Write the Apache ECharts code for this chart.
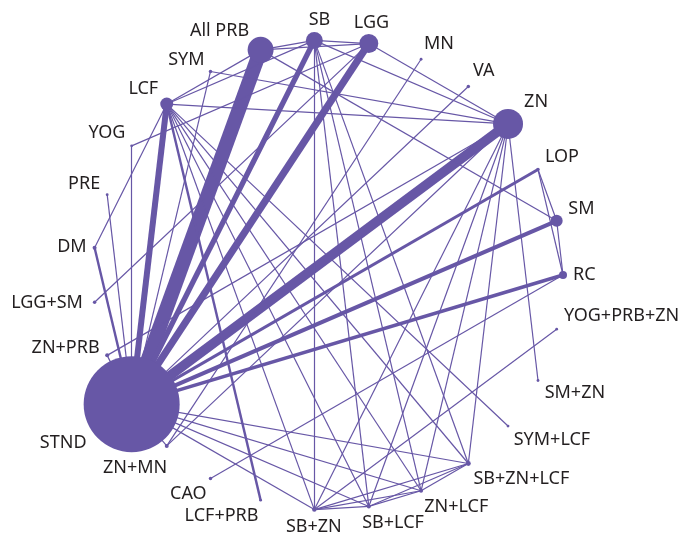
<!DOCTYPE html>
<html>
<head>
<meta charset="utf-8">
<script src="https://cdn.jsdelivr.net/npm/echarts@6/dist/echarts.min.js"></script>
<style>
  html, body { margin: 0; padding: 0; background: #fff; }
  #chart { width: 683px; height: 535px; }
</style>
</head>
<body>
<div id="chart"></div>
<script>
// treatments, clockwise starting at 3 o'clock
var treatments = ['RC', 'YOG+PRB+ZN', 'SM+ZN', 'SYM+LCF', 'SB+ZN+LCF', 'ZN+LCF', 'SB+LCF', 'SB+ZN',
  'LCF+PRB', 'CAO', 'ZN+MN', 'STND', 'ZN+PRB', 'LGG+SM', 'DM', 'PRE', 'YOG', 'LCF', 'SYM',
  'All PRB', 'SB', 'LGG', 'MN', 'VA', 'ZN', 'LOP', 'SM'];

// node weight (drives node size)
var nodeWeight = [16, 2, 2, 2, 6, 4, 4, 5,
  2, 3, 4, 2304, 4, 3, 4, 2, 2, 42, 3,
  169, 72, 90, 2, 3, 225, 3, 36];

// comparisons: [treatment A, treatment B, number of studies]
var comparisons = [
  ['STND', 'All PRB', 12], ['STND', 'ZN', 8], ['STND', 'LGG', 6], ['STND', 'SB', 4.5],
  ['STND', 'LCF', 5], ['STND', 'SM', 3.5], ['STND', 'RC', 3], ['STND', 'LOP', 2.5],
  ['STND', 'DM', 2], ['STND', 'PRE', 1], ['STND', 'YOG', 1], ['STND', 'ZN+PRB', 1],
  ['STND', 'ZN+MN', 1], ['STND', 'VA', 1], ['STND', 'SYM', 1],
  ['DM', 'LCF', 1], ['YOG', 'LGG', 1], ['LGG+SM', 'LGG', 1], ['ZN+PRB', 'ZN', 1],
  ['MN', 'ZN+MN', 1], ['ZN+MN', 'ZN', 1], ['CAO', 'RC', 1], ['LCF+PRB', 'LCF', 2],
  ['YOG+PRB+ZN', 'SB+ZN', 1], ['SM+ZN', 'ZN', 1], ['SYM+LCF', 'LCF', 1],
  ['RC', 'LOP', 1], ['RC', 'SM', 1], ['LOP', 'SM', 1],
  ['SB', 'LGG', 1], ['SB', 'All PRB', 1], ['LGG', 'ZN', 1], ['SB', 'ZN', 1],
  ['SYM', 'ZN', 1], ['LCF', 'ZN', 1], ['All PRB', 'SM', 1], ['LCF', 'SB', 1],
  ['LCF', 'All PRB', 1], ['LGG', 'All PRB', 1],
  ['SB', 'SB+ZN', 1], ['SB', 'SB+LCF', 1], ['SB', 'ZN+LCF', 1], ['SB', 'SB+ZN+LCF', 1],
  ['ZN', 'SB+ZN', 1], ['ZN', 'SB+LCF', 1], ['ZN', 'ZN+LCF', 1], ['ZN', 'SB+ZN+LCF', 1],
  ['LCF', 'SB+ZN', 1], ['LCF', 'SB+LCF', 1], ['LCF', 'ZN+LCF', 1], ['LCF', 'SB+ZN+LCF', 1],
  ['STND', 'SB+ZN', 1], ['STND', 'SB+LCF', 1], ['STND', 'ZN+LCF', 1], ['STND', 'SB+ZN+LCF', 1],
  ['SB+ZN', 'SB+LCF', 1], ['SB+ZN', 'ZN+LCF', 1], ['SB+ZN', 'SB+ZN+LCF', 1],
  ['SB+LCF', 'ZN+LCF', 1], ['SB+LCF', 'SB+ZN+LCF', 1], ['ZN+LCF', 'SB+ZN+LCF', 1]
];

var purple = '#6757a6';
var n = treatments.length;

// small hand nudges for labels that sit off the radial position
var labelNudge = {
  'YOG+PRB+ZN': [0, -15], 'ZN+PRB': [0, -10], 'PRE': [0, -8],
  'All PRB': [-6, 8], 'SB': [6, 3], 'SM': [0, -9], 'ZN+MN': [6, 7],
  'LGG': [0, 4], 'SB+LCF': [-8, 0], 'LGG+SM': [-4, 0], 'SYM': [-2, 4], 'LCF': [0, 3]
};

var nodes = treatments.map(function (name, i) {
  var size = 2 * Math.sqrt(nodeWeight[i]);
  var ang = i * 2 * Math.PI / n;
  var c = Math.cos(ang), s = Math.sin(ang);
  var dist = size / 2 + 6;
  var nudge = labelNudge[name] || [0, 0];
  var leftCut = s > 0 ? 0.1 : 0.25;
  return {
    name: name,
    value: [1, i],
    symbolSize: size,
    label: {
      position: 'inside',
      offset: [c * dist + nudge[0], s * dist + nudge[1]],
      align: c > leftCut ? 'left' : (c < -0.25 ? 'right' : 'center'),
      verticalAlign: s > 0.4 ? 'top' : (s < -0.4 ? 'bottom' : 'middle')
    }
  };
});

var links = comparisons.map(function (d) {
  return { source: d[0], target: d[1], lineStyle: { width: 1.2 * d[2] } };
});

var chart = echarts.init(document.getElementById('chart'));
chart.setOption({
  animation: false,
  polar: { center: [328, 275], radius: 235 },
  angleAxis: { type: 'value', min: 0, max: n, startAngle: 0, clockwise: true, show: false },
  radiusAxis: { type: 'value', min: 0, max: 1, show: false },
  series: [{
    type: 'graph',
    coordinateSystem: 'polar',
    data: nodes,
    links: links,
    itemStyle: { color: purple, opacity: 1 },
    lineStyle: { color: purple, opacity: 1, curveness: 0 },
    label: {
      show: true,
      color: '#231f20',
      fontSize: 18,
      fontFamily: 'Noto Sans'
    }
  }]
});
</script>
</body>
</html>
